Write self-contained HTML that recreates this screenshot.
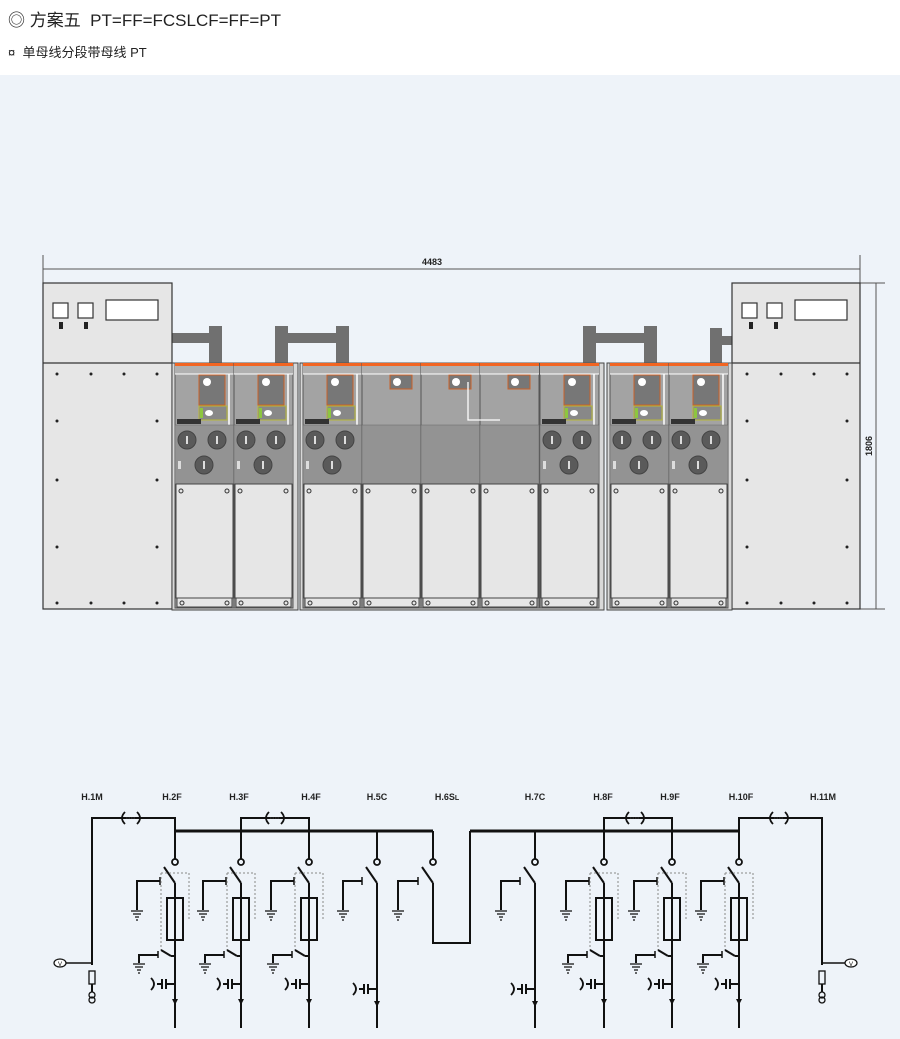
<!DOCTYPE html>
<html><head><meta charset="utf-8"><style>
html,body{margin:0;padding:0;width:900px;height:1039px;background:#fff;overflow:hidden;font-family:"Liberation Sans","Noto Sans CJK SC",sans-serif}
.t1{position:absolute;left:8px;top:6px;font-size:17px;color:#222}
.t2{position:absolute;left:8px;top:42px;font-size:13px;color:#222}
.bg{position:absolute;left:0;top:75px;width:900px;height:964px;background:#eef3f9}
svg{position:absolute;left:0;top:0}
</style></head><body>
<div class="t1">◎ 方案五&nbsp; PT=FF=FCSLCF=FF=PT</div>
<div class="t2">¤&nbsp; 单母线分段带母线 PT</div>
<div class="bg"></div>
<svg width="900" height="1039" viewBox="0 0 900 1039">
<defs>
<g id="cellK">
 <rect x="0" y="363" width="59" height="245" fill="#a3a3a3" stroke="#555" stroke-width="1"/>
 <rect x="0" y="363" width="59" height="3" fill="#f26522"/>
 <rect x="0" y="366" width="59" height="8" fill="#b0b0b0"/>
 <rect x="24" y="375" width="26" height="30" fill="#777" stroke="#c8602a"/>
 <circle cx="32" cy="382" r="4" fill="#fff"/>
 <rect x="24" y="406" width="28" height="14" fill="#888" stroke="#b9b937"/>
 <rect x="25" y="408" width="3" height="10" fill="#8dc63f"/>
 <ellipse cx="34" cy="413" rx="4" ry="3" fill="#fff"/>
 <line x1="54" y1="374" x2="54" y2="425" stroke="#fff" stroke-width="1.5"/>
 <line x1="0" y1="374" x2="59" y2="374" stroke="#fff" stroke-width="1"/>
 <rect x="2" y="419" width="24" height="5" fill="#333"/>
 <rect x="0" y="425" width="59" height="59" fill="#939393" stroke="#666" stroke-width=".5"/>
 <circle cx="12" cy="440" r="9" fill="#5a5a5a" stroke="#444"/>
 <circle cx="42" cy="440" r="9" fill="#5a5a5a" stroke="#444"/>
 <circle cx="29" cy="465" r="9" fill="#5a5a5a" stroke="#444"/>
 <rect x="11" y="436" width="2" height="8" fill="#ddd"/><rect x="41" y="436" width="2" height="8" fill="#ddd"/><rect x="28" y="461" width="2" height="8" fill="#ddd"/>
 <rect x="3" y="461" width="3" height="8" fill="#ddd"/>
 <rect x="1" y="484" width="57" height="114" fill="#e6e6e6" stroke="#444"/>
 <circle cx="6" cy="491" r="2" fill="none" stroke="#333"/><circle cx="52" cy="491" r="2" fill="none" stroke="#333"/>
 <rect x="2" y="598" width="55" height="9" fill="#e6e6e6" stroke="#444"/>
 <circle cx="7" cy="603" r="2" fill="none" stroke="#333"/><circle cx="52" cy="603" r="2" fill="none" stroke="#333"/>
</g>
<g id="cellB">
 <rect x="0" y="363" width="59" height="245" fill="#a3a3a3" stroke="#555" stroke-width="1"/>
 <rect x="0" y="363" width="59" height="3" fill="#f26522"/>
 <rect x="0" y="366" width="59" height="8" fill="#b0b0b0"/>
 <rect x="28" y="375" width="22" height="14" fill="#777" stroke="#c8602a"/>
 <circle cx="35" cy="382" r="4" fill="#fff"/>
 <line x1="0" y1="374" x2="59" y2="374" stroke="#fff" stroke-width="1"/>
 <rect x="0" y="425" width="59" height="59" fill="#939393" stroke="#666" stroke-width=".5"/>
 <rect x="1" y="484" width="57" height="114" fill="#e6e6e6" stroke="#444"/>
 <circle cx="6" cy="491" r="2" fill="none" stroke="#333"/><circle cx="52" cy="491" r="2" fill="none" stroke="#333"/>
 <rect x="2" y="598" width="55" height="9" fill="#e6e6e6" stroke="#444"/>
 <circle cx="7" cy="603" r="2" fill="none" stroke="#333"/><circle cx="52" cy="603" r="2" fill="none" stroke="#333"/>
</g>
<g id="ff" fill="none" stroke="#111" stroke-width="2">
 <circle cx="0" cy="862" r="3" stroke-width="1.8"/>
 <line x1="-11" y1="867" x2="0" y2="883"/>
 <line x1="0" y1="883" x2="0" y2="1028"/>
 <polyline points="-15,881 -38,881 -38,910"/>
 <line x1="-15" y1="877" x2="-15" y2="885" stroke-width="1.5"/>
 <path d="M-44,911h12M-42,914h8M-40,917h4M-39,920h2" stroke-width="1.2"/>
 <rect x="-8" y="898" width="16" height="42"/>
 <path d="M-14,873H14V920M-14,873V950" stroke="#888" stroke-width="1" stroke-dasharray="2,2"/>
 <line x1="-14" y1="950" x2="-4" y2="956"/>
 <line x1="-4" y1="956" x2="0" y2="956"/>
 <polyline points="-17,955 -36,955 -36,963"/>
 <line x1="-17" y1="951" x2="-17" y2="958" stroke-width="1.5"/>
 <path d="M-42,964h12M-40,967h8M-38,970h4M-37,973h2" stroke-width="1.2"/>
 <line x1="-9" y1="984" x2="0" y2="984"/>
 <line x1="-9" y1="979" x2="-9" y2="989"/><line x1="-13" y1="979" x2="-13" y2="989"/>
 <line x1="-13" y1="984" x2="-18" y2="984"/>
 <path d="M-24,978q6,6 0,12" stroke-width="1.8"/>
 <path d="M-3,999h6l-3,6z" fill="#111" stroke="none"/>
</g>
<g id="cc" fill="none" stroke="#111" stroke-width="2">
 <circle cx="0" cy="862" r="3" stroke-width="1.8"/>
 <line x1="-11" y1="867" x2="0" y2="883"/>
 <line x1="0" y1="883" x2="0" y2="1028"/>
 <polyline points="-15,881 -34,881 -34,910"/>
 <line x1="-15" y1="877" x2="-15" y2="885" stroke-width="1.5"/>
 <path d="M-40,911h12M-38,914h8M-36,917h4M-35,920h2" stroke-width="1.2"/>
 <line x1="-9" y1="989" x2="0" y2="989"/>
 <line x1="-9" y1="984" x2="-9" y2="994"/><line x1="-13" y1="984" x2="-13" y2="994"/>
 <line x1="-13" y1="989" x2="-18" y2="989"/>
 <path d="M-24,983q6,6 0,12" stroke-width="1.8"/>
 <path d="M-3,1001h6l-3,6z" fill="#111" stroke="none"/>
</g>
<g id="cpl" fill="none" stroke="#111" stroke-width="1.8">
 <path d="M-6,-6q-6,6 0,12M6,-6q6,6 0,12"/><line x1="-5" y1="0" x2="5" y2="0" stroke-width="1.3" stroke-dasharray="1.5,1" stroke="#333"/>
</g>
</defs>

<g stroke="#555" stroke-width="1" fill="none">
 <line x1="43" y1="255" x2="43" y2="283"/><line x1="860" y1="255" x2="860" y2="283"/>
 <line x1="43" y1="269" x2="860" y2="269"/>
 <line x1="860" y1="283" x2="885" y2="283"/><line x1="860" y1="609" x2="885" y2="609"/>
 <line x1="876" y1="283" x2="876" y2="609"/>
</g>
<text x="432" y="265" font-size="9" font-weight="bold" text-anchor="middle" fill="#222">4483</text>
<text transform="translate(872,446) rotate(-90)" font-size="9" font-weight="bold" text-anchor="middle" fill="#222">1806</text>

<g fill="#707070">
 <rect x="172" y="333" width="46" height="10"/><rect x="209" y="326" width="13" height="37"/>
 <rect x="275" y="326" width="13" height="37"/><rect x="288" y="333" width="50" height="10"/><rect x="336" y="326" width="13" height="37"/>
 <rect x="583" y="326" width="13" height="37"/><rect x="596" y="333" width="50" height="10"/><rect x="644" y="326" width="13" height="37"/>
 <rect x="710" y="328" width="12" height="35"/><rect x="720" y="336" width="12" height="9"/>
</g>

<g stroke="#333" stroke-width="1.2">
 <rect x="43" y="283" width="129" height="326" fill="#e6e6e6"/>
 <line x1="43" y1="363" x2="172" y2="363"/>
 <rect x="53" y="303" width="15" height="15" fill="#fff"/><rect x="78" y="303" width="15" height="15" fill="#fff"/>
 <rect x="106" y="300" width="52" height="20" fill="#fff"/>
 <rect x="732" y="283" width="128" height="326" fill="#e6e6e6"/>
 <line x1="732" y1="363" x2="860" y2="363"/>
 <rect x="742" y="303" width="15" height="15" fill="#fff"/><rect x="767" y="303" width="15" height="15" fill="#fff"/>
 <rect x="795" y="300" width="52" height="20" fill="#fff"/>
</g>
<g fill="#222">
 <rect x="59" y="322" width="4" height="7"/><rect x="84" y="322" width="4" height="7"/>
 <rect x="749" y="322" width="4" height="7"/><rect x="774" y="322" width="4" height="7"/>
 <circle cx="57" cy="374" r="1.5"/><circle cx="91" cy="374" r="1.5"/><circle cx="124" cy="374" r="1.5"/><circle cx="157" cy="374" r="1.5"/>
 <circle cx="57" cy="421" r="1.5"/><circle cx="157" cy="421" r="1.5"/><circle cx="57" cy="480" r="1.5"/><circle cx="157" cy="480" r="1.5"/>
 <circle cx="57" cy="547" r="1.5"/><circle cx="157" cy="547" r="1.5"/><circle cx="57" cy="603" r="1.5"/><circle cx="91" cy="603" r="1.5"/><circle cx="124" cy="603" r="1.5"/><circle cx="157" cy="603" r="1.5"/>
 <circle cx="747" cy="374" r="1.5"/><circle cx="781" cy="374" r="1.5"/><circle cx="814" cy="374" r="1.5"/><circle cx="847" cy="374" r="1.5"/>
 <circle cx="747" cy="421" r="1.5"/><circle cx="847" cy="421" r="1.5"/><circle cx="747" cy="480" r="1.5"/><circle cx="847" cy="480" r="1.5"/>
 <circle cx="747" cy="547" r="1.5"/><circle cx="847" cy="547" r="1.5"/><circle cx="747" cy="603" r="1.5"/><circle cx="781" cy="603" r="1.5"/><circle cx="814" cy="603" r="1.5"/><circle cx="847" cy="603" r="1.5"/>
</g>

<g fill="#d8d8d8" stroke="#444" stroke-width="1">
 <rect x="172" y="363" width="126" height="247"/>
 <rect x="300" y="363" width="304" height="247"/>
 <rect x="607" y="363" width="125" height="247"/>
</g>
<use href="#cellK" x="175"/><use href="#cellK" x="234"/>
<use href="#cellK" x="303"/><use href="#cellB" x="362"/><use href="#cellB" x="421"/><use href="#cellB" x="480"/><use href="#cellK" x="540"/>
<use href="#cellK" x="610"/><use href="#cellK" x="669"/>
<g fill="none" stroke="#fff" stroke-width="1.3">
 <polyline points="468,382 468,420 480,420"/><polyline points="480,420 500,420"/>
</g>

<g font-size="9" font-weight="bold" fill="#222" text-anchor="middle">
 <text x="92" y="800">H.1M</text><text x="172" y="800">H.2F</text><text x="239" y="800">H.3F</text><text x="311" y="800">H.4F</text>
 <text x="377" y="800">H.5C</text><text x="447" y="800">H.6S<tspan font-size="7">L</tspan></text><text x="535" y="800">H.7C</text>
 <text x="603" y="800">H.8F</text><text x="670" y="800">H.9F</text><text x="741" y="800">H.10F</text><text x="823" y="800">H.11M</text>
</g>
<g fill="none" stroke="#111" stroke-width="2">
 <polyline points="92,965 92,818 175,818 175,859"/>
 <polyline points="241,859 241,818 309,818 309,859"/>
 <polyline points="604,859 604,818 672,818 672,859"/>
 <polyline points="739,859 739,818 822,818 822,965"/>
 <line x1="175" y1="831" x2="433" y2="831" stroke-width="3"/>
 <line x1="470" y1="831" x2="739" y2="831" stroke-width="3"/>
 <line x1="377" y1="831" x2="377" y2="859"/><line x1="433" y1="831" x2="433" y2="859"/><line x1="535" y1="831" x2="535" y2="859"/>
 <polyline points="433,883 433,943 470,943 470,831"/>
 <circle cx="433" cy="862" r="3" stroke-width="1.8"/>
 <line x1="422" y1="867" x2="433" y2="883"/>
 <polyline points="418,881 398,881 398,910"/><line x1="418" y1="877" x2="418" y2="885" stroke-width="1.5"/>
 <path d="M392,911h12M394,914h8M396,917h4M397,920h2" stroke-width="1.2"/>
 <line x1="60" y1="963" x2="92" y2="963" stroke-width="1.5"/>
 <line x1="822" y1="963" x2="850" y2="963" stroke-width="1.5"/>
 <rect x="89" y="971" width="6" height="13" stroke-width="1.3"/><line x1="92" y1="984" x2="92" y2="992"/>
 <rect x="819" y="971" width="6" height="13" stroke-width="1.3"/><line x1="822" y1="984" x2="822" y2="992"/>
 <circle cx="92" cy="995" r="3" stroke-width="1.3"/><circle cx="92" cy="1000" r="3" stroke-width="1.3"/>
 <circle cx="822" cy="995" r="3" stroke-width="1.3"/><circle cx="822" cy="1000" r="3" stroke-width="1.3"/>
</g>
<g fill="#fff" stroke="#111" stroke-width="1.2">
 <ellipse cx="60" cy="963" rx="6" ry="4"/><ellipse cx="851" cy="963" rx="6" ry="4"/>
</g>
<text x="60" y="966" font-size="6" text-anchor="middle">V</text><text x="851" y="966" font-size="6" text-anchor="middle">V</text>
<use href="#cpl" x="131" y="818"/><use href="#cpl" x="275" y="818"/><use href="#cpl" x="635" y="818"/><use href="#cpl" x="779" y="818"/>
<use href="#ff" x="175"/><use href="#ff" x="241"/><use href="#ff" x="309"/>
<use href="#ff" x="604"/><use href="#ff" x="672"/><use href="#ff" x="739"/>
<use href="#cc" x="377"/><use href="#cc" x="535"/>
</svg>
</body></html>
